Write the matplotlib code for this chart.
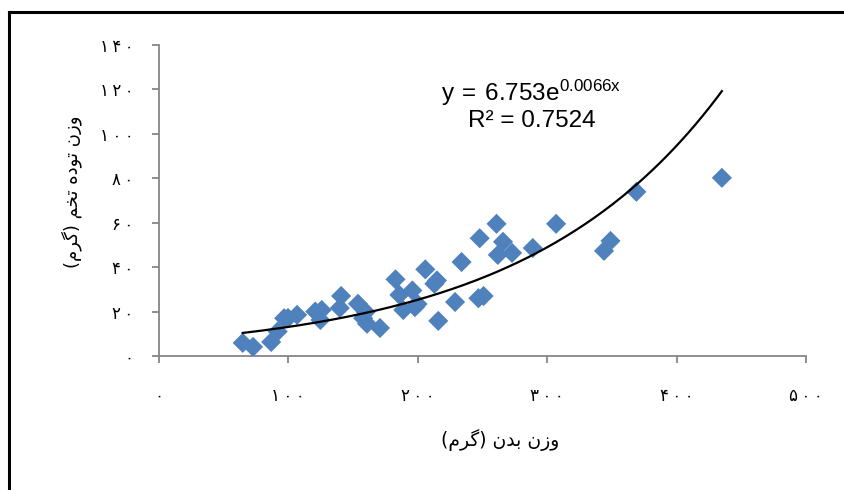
import matplotlib.pyplot as plt
import numpy as np
from matplotlib.lines import Line2D

# body weight (g) vs egg mass weight (g)
body_weight = [65, 73, 87, 92, 97, 100, 107, 121, 126, 125, 141, 140, 154, 160,
               158, 161, 171, 183, 186, 189, 196, 198, 200, 206, 213, 215, 216,
               229, 234, 247, 251, 248, 261, 266, 262, 273, 289, 307, 344, 349,
               369, 435]
egg_mass = [5.9, 4.1, 6.3, 11.0, 17.0, 17.1, 18.5, 20.0, 20.7, 16.2, 27.0, 21.6,
            23.5, 19.8, 17.0, 14.5, 12.6, 34.5, 27.5, 20.7, 29.5, 22.0, 23.4, 39.0,
            32.5, 34.0, 15.8, 24.3, 42.3, 26.0, 27.0, 53.0, 59.5, 51.4, 45.5, 46.4,
            48.6, 59.5, 47.3, 51.8, 73.9, 80.2]

# exponential trendline shown on the chart
fit_a = 6.753
fit_b = 0.0066

x_ticks = [0, 100, 200, 300, 400, 500]
y_ticks = [0, 20, 40, 60, 80, 100, 120, 140]

# Persian labels, pre-shaped (presentation forms, visual order)
x_label = "(\uFEE1\uFEAE\uFB94) \uFEE5\uFEAA\uFE91 \uFEE5\uFEAF\uFEED"
y_label = ("(\uFEE1\uFEAE\uFB94) \uFEE2\uFEA8\uFE97 \uFEE9\uFEA9\uFEEE\uFE97 "
           "\uFEE5\uFEAF\uFEED")


def fa_digits(n):
    # Persian digits, a bit spaced out like the original font
    s = str(n).translate(str.maketrans("0123456789", "۰۱۲۳۴۵۶۷۸۹"))
    return "\u2009".join(s)


plt.rcParams["mathtext.fontset"] = "custom"
plt.rcParams["mathtext.rm"] = "Liberation Sans"

fig = plt.figure(figsize=(8.45, 4.9), dpi=100)
ax = fig.add_axes([0.1876, 0.2735, 0.7663, 0.6347])

ax.scatter(body_weight, egg_mass, marker="D", s=105, color="#4F81BD",
           edgecolors="none", zorder=3)

xs = np.linspace(min(body_weight), max(body_weight), 200)
ax.plot(xs, fit_a * np.exp(fit_b * xs), color="black", linewidth=1.6, zorder=4)

ax.set_xlim(0, 500)
ax.set_ylim(0, 140)
ax.set_xticks(x_ticks)
ax.set_yticks(y_ticks)
ax.set_xticklabels([fa_digits(v) for v in x_ticks], fontsize=12)
ax.set_yticklabels([fa_digits(v) for v in y_ticks], fontsize=12)

for side in ["top", "right"]:
    ax.spines[side].set_visible(False)
for side in ["left", "bottom"]:
    ax.spines[side].set_color("#868686")
    ax.spines[side].set_linewidth(1.3)
ax.tick_params(axis="both", direction="out", length=5, width=1.3,
               color="#868686", labelcolor="black")
ax.tick_params(axis="x", pad=17)
ax.tick_params(axis="y", pad=13)

ax.set_xlabel(x_label, fontsize=13.5)
ax.set_ylabel(y_label, fontsize=13)
ax.xaxis.set_label_coords(0.527, -0.235)
ax.yaxis.set_label_coords(-0.118, 0.527)

ax.text(288, 118.5, r"$\mathrm{y\,=\,6.753e^{0.0066x}}$", fontsize=17.5,
        ha="center", va="center")
ax.text(288, 105.9, "R² = 0.7524", fontsize=17.5, family="Liberation Sans",
        ha="center", va="center")

# chart frame (top and left edges visible in the crop)
fig.add_artist(Line2D([0.0105, 0.0105], [0.0, 0.976], color="black",
                      linewidth=2.2, transform=fig.transFigure))
fig.add_artist(Line2D([0.0105, 1.0], [0.976, 0.976], color="black",
                      linewidth=2.2, transform=fig.transFigure))

fig.savefig("out.png", dpi=100)
